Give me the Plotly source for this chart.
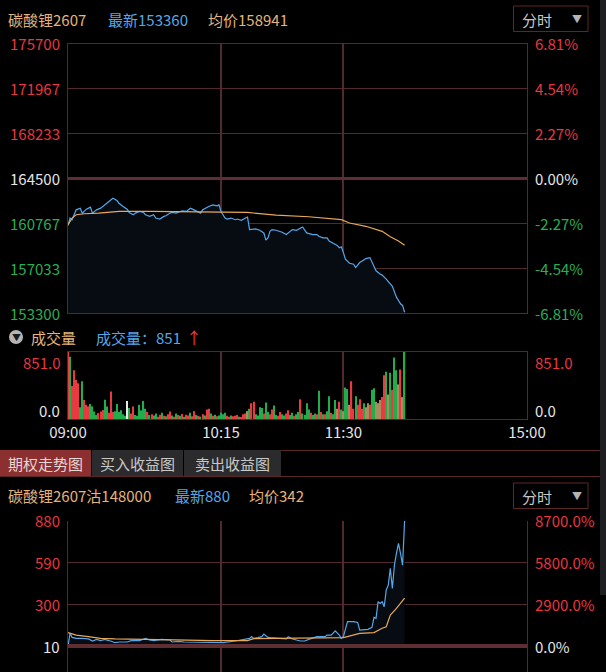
import plotly.graph_objects as go

W, H = 606, 672
def px(x): return x / W
def py(y): return 1 - y / H

# ---------------- data ----------------
time_ticks = [0, 75, 135, 225]
time_labels = ["09:00", "10:15", "11:30", "15:00"]

prev_close = 164500
price_ticks = [153300, 157033, 160767, 164500, 168233, 171967, 175700]
price_pct = ["-6.81%", "-4.54%", "-2.27%", "0.00%", "2.27%", "4.54%", "6.81%"]

price_min = [0, 1, 2, 4, 6, 7, 9, 11, 12, 14, 16, 17, 19, 20, 22, 24, 25, 27, 29, 30,
             32, 33, 35, 37, 38, 40, 42, 43, 45, 47, 48, 50, 51, 53, 55, 56, 58, 60, 61, 63,
             65, 66, 68, 69, 71, 73, 74, 75, 77, 78, 80, 82, 83, 85, 87, 88, 89, 91, 92, 94,
             96, 97, 98, 99, 100, 102, 104, 105, 107, 109, 110, 112, 114, 115, 117, 118, 120, 122, 123, 125,
             127, 128, 130, 132, 133, 134, 135, 136, 138, 140, 141, 143, 145, 146, 148, 150, 151, 153, 154, 156,
             158, 159, 161, 163, 164, 165]
price_val = [160575, 161206, 161069, 161892, 162029, 161618, 161947, 162112, 161618, 161892,
             162029, 162167, 162441, 162578, 162853, 162661, 162441, 162167, 161947, 161673,
             161480, 161618, 161755, 161673, 161480, 161343, 161480, 161206, 161124, 161343,
             161398, 161618, 161673, 161618, 161755, 161810, 161755, 162029, 161947, 161755,
             161618, 161892, 162112, 162167, 162304, 162222, 162304, 161755, 161206, 161124,
             161206, 161069, 161124, 161014, 161206, 161288, 160245, 160245, 160300, 160190,
             159971, 159367, 159559, 160108, 160245, 160190, 160108, 160026, 159833, 160108,
             160245, 160190, 160382, 160465, 159971, 159916, 159833, 159833, 159696, 159559,
             159559, 159284, 159092, 158928, 158735, 158818, 158324, 157775, 157445, 157363,
             157088, 157500, 157720, 157830, 157912, 157226, 156814, 156540, 156457, 156128,
             155716, 155524, 154618, 154069, 153932, 153360]

avg_min = [0, 2, 4, 8, 15, 25, 40, 60, 74, 88, 102, 118, 134, 138, 146, 150, 154, 158, 162, 165]
avg_val = [160657, 161206, 161480, 161563, 161618, 161755, 161755, 161727, 161727, 161673,
           161453, 161316, 161069, 160794, 160520, 160330, 160100, 159650, 159300, 158941]

vol = [851, 790, 420, 620, 500, 455, 150, 480, 240, 180,
       160, 190, 160, 95, 50, 75, 95, 115, 245, 160,
       80, 350, 90, 100, 190, 90, 110, 60, 40, 230,
       140, 70, 160, 50, 40, 180, 110, 230, 130, 90,
       50, 60, 45, 70, 30, 55, 80, 40, 35, 60,
       95, 45, 30, 70, 50, 40, 65, 30, 55, 45,
       80, 35, 100, 50, 40, 30, 60, 45, 120, 130,
       70, 40, 55, 35, 45, 80, 60, 80, 40, 30,
       45, 35, 40, 50, 30, 25, 60, 70, 100, 130,
       200, 220, 60, 45, 150, 140, 70, 210, 90, 60,
       120, 170, 50, 40, 90, 60, 45, 70, 110, 50,
       80, 40, 60, 90, 250, 70, 55, 200, 120, 80,
       50, 70, 60, 360, 90, 60, 60, 100, 290, 80,
       60, 240, 130, 220, 120, 100, 400, 380, 180, 480,
       130, 290, 180, 250, 130, 200, 150, 200, 180, 370,
       390, 220, 200, 240, 280, 556, 600, 310, 586, 370,
       780, 620, 440, 629, 278, 851]
vol_dir = list("rgrrrrggrr" "rggggrrrgg" "rrrggggggw" "grrggggggr" "grggrrgrgr"
               "rgrgrgrgrr" "grrgrgrgrr" "grgrggggrr" "grrrgrrrkg" "rrggggrggr"
               "rggrrggrrg" "grggrggggr" "ggrgrgrggr" "ggkrgkggkr" "rgrrrgkkrg"
               "gkkkrrgkgr" "ggkrkg")
vol_max = 851

opt_prev = 10
opt_ticks = [880, 590, 300, 10]
opt_min = [0, 1, 2, 4, 7, 10, 12, 14, 16, 18, 20, 21, 23, 25, 29, 31, 35, 38, 40, 42,
           46, 50, 51, 54, 57, 61, 65, 67, 73, 76, 82, 89, 90, 91, 93, 95, 96, 98, 99, 103,
           107, 108, 110, 114, 116, 118, 122, 126, 127, 129, 131, 133, 134, 135, 137, 140, 142, 143, 145, 147,
           149, 150, 151, 152, 153, 154, 155, 156, 157, 158, 159, 160, 161, 162, 163, 164, 165]
opt_val = [10, 98, 70, 63, 63, 59, 45, 56, 47, 56, 47, 45, 33, 38, 38, 47, 47, 63, 52, 47,
           56, 52, 38, 42, 38, 38, 38, 33, 33, 33, 45, 63, 75, 63, 68, 75, 93, 70, 68, 63,
           59, 75, 59, 45, 45, 56, 75, 75, 86, 86, 116, 86, 63, 75, 179, 179, 174, 121, 121, 126,
           140, 209, 202, 318, 306, 318, 283, 399, 433, 549, 410, 572, 653, 723, 653, 572, 880]
oavg_min = [0, 4, 10, 16, 23, 35, 52, 71, 88, 91, 108, 133, 135, 143, 150, 154, 156, 158, 161, 165]
oavg_val = [103, 86, 75, 63, 59, 54, 52, 47, 47, 61, 63, 66, 68, 98, 103, 133, 144, 225, 271, 342]

# ---------------- styles ----------------
BG = "#000000"
GRID = "#522a2e"
GRID_THICK = "#5f2e33"
RED = "#e8373f"
GREEN = "#2aae55"
WHITE = "#e6e6e6"
BLUE = "#55a7ea"
ORANGE = "#e8a85c"
TAN = "#e6b47a"
FONT = "Noto Sans CJK SC, Noto Sans, sans-serif"
FILL = "#070b12"
bar_colors = {"r": "#ea3a3f", "g": "#21ad4c", "w": "#e8e8e8", "k": "#a88c5e"}

XL, XR = 68, 527

fig = go.Figure()

fig.add_trace(go.Scatter(x=price_min, y=price_val, mode="lines", line=dict(color=BLUE, width=1.2),
                         fill="tozeroy", fillcolor=FILL, xaxis="x", yaxis="y", hoverinfo="skip"))
fig.add_trace(go.Scatter(x=avg_min, y=avg_val, mode="lines", line=dict(color=ORANGE, width=1.2),
                         xaxis="x", yaxis="y", hoverinfo="skip"))
fig.add_trace(go.Bar(x=list(range(len(vol))), y=vol, width=0.6,
                     marker=dict(color=[bar_colors[c] for c in vol_dir], line=dict(width=0)),
                     xaxis="x2", yaxis="y2", hoverinfo="skip"))
fig.add_trace(go.Scatter(x=opt_min, y=opt_val, mode="lines", line=dict(color=BLUE, width=1.2),
                         fill="tozeroy", fillcolor=FILL, xaxis="x3", yaxis="y3", hoverinfo="skip"))
fig.add_trace(go.Scatter(x=oavg_min, y=oavg_val, mode="lines", line=dict(color=ORANGE, width=1.2),
                         xaxis="x3", yaxis="y3", hoverinfo="skip"))

xdom = [px(XL), px(XR)]
common_x = dict(domain=xdom, range=[0, 225], zeroline=False, fixedrange=True, automargin=False)

layout = dict(
    width=W, height=H, autosize=False,
    margin=dict(l=0, r=0, t=0, b=0, pad=0, autoexpand=False),
    paper_bgcolor=BG, plot_bgcolor=BG, showlegend=False, barmode="overlay",
    font=dict(family=FONT, color=WHITE, size=15),
    xaxis=dict(**common_x, anchor="y", tickvals=[75, 135], showticklabels=False, ticks="",
               showgrid=True, gridcolor=GRID, gridwidth=2,
               showline=True, mirror=True, linecolor=GRID, linewidth=1),
    yaxis=dict(domain=[py(313), py(44)], range=[price_ticks[0], price_ticks[-1]], anchor="x",
               tickvals=price_ticks, showticklabels=False, ticks="", showgrid=True,
               gridcolor=GRID, gridwidth=1, zeroline=False, automargin=False,
               showline=True, mirror=True, linecolor=GRID, linewidth=1),
    xaxis2=dict(**common_x, anchor="y2", tickvals=time_ticks, ticktext=time_labels, ticks="",
                tickfont=dict(color=WHITE, size=15, family=FONT), showgrid=True,
                gridcolor=GRID, gridwidth=2, showline=True, mirror=True, linecolor=GRID, linewidth=1),
    yaxis2=dict(domain=[py(419), py(352)], range=[0, vol_max], anchor="x2", showgrid=False,
                showticklabels=False, ticks="", zeroline=False, automargin=False,
                showline=True, mirror=True, linecolor=GRID, linewidth=1),
    xaxis3=dict(**common_x, anchor="y3", tickvals=[75, 135], showticklabels=False, ticks="",
                showgrid=True, gridcolor=GRID, gridwidth=2, showline=False),
    yaxis3=dict(domain=[0, py(520.7)], range=[-170.5, 880.5], anchor="x3",
                tickvals=opt_ticks[:3], showticklabels=False, ticks="", showgrid=True,
                gridcolor=GRID, gridwidth=1, zeroline=False, automargin=False,
                showline=True, mirror=True, linecolor=GRID, linewidth=1),
)
fig.update_layout(**layout)

shapes = []
ann = []

def text(x, y, s, color, xanchor="left", size=15, xref="paper", yref="paper"):
    ann.append(dict(x=x, y=y, xref=xref, yref=yref, text=s, showarrow=False,
                    xanchor=xanchor, yanchor="middle", font=dict(color=color, size=size, family=FONT)))

shapes.append(dict(type="line", xref="paper", yref="y", x0=px(XL), x1=px(XR), y0=prev_close, y1=prev_close,
                   line=dict(color=GRID_THICK, width=3)))
shapes.append(dict(type="line", xref="paper", yref="y3", x0=px(XL), x1=px(XR), y0=opt_prev, y1=opt_prev,
                   line=dict(color=GRID_THICK, width=4)))

for v, p in zip(price_ticks, price_pct):
    c = RED if v > prev_close else (GREEN if v < prev_close else WHITE)
    text(px(62), v, str(v), c, xanchor="right", yref="y")
    text(px(533), v, p, c, xanchor="left", yref="y")

text(px(62), py(362), f"{vol_max:.1f}", RED, xanchor="right")
text(px(533), py(362), f"{vol_max:.1f}", RED, xanchor="left")
text(px(62), py(410), "0.0", WHITE, xanchor="right")
text(px(533), py(410), "0.0", WHITE, xanchor="left")

for v in opt_ticks:
    c = RED if v > opt_prev else WHITE
    pct = (v - opt_prev) / opt_prev * 100
    text(px(62), v, str(v), c, xanchor="right", yref="y3")
    text(px(533), v, f"{pct:.1f}%", c, xanchor="left", yref="y3")

text(px(6), py(19), "碳酸锂2607", TAN)
text(px(106), py(19), "最新" + str(price_val[-1]), BLUE)
text(px(206), py(19), "均价" + str(avg_val[-1]), TAN)

for top in (6, 483):
    shapes.append(dict(type="rect", xref="paper", yref="paper", x0=px(513.5), x1=px(588), y0=py(top), y1=py(top + 25.5),
                       line=dict(color="#5e2727", width=1), fillcolor="rgba(0,0,0,0)"))
    text(px(520), py(top + 13), "分时", "#c8c8c8")
    text(px(577), py(top + 12), "▼", "#b4b4b4", xanchor="center", size=10)

shapes.append(dict(type="circle", xref="paper", yref="paper", x0=px(9), x1=px(23), y0=py(344), y1=py(330),
                   fillcolor="#b5b5b5", line=dict(width=0)))
text(px(16), py(337.5), "▼", "#1a1a1a", xanchor="center", size=9)
text(px(29), py(337), "成交量", TAN)
text(px(94), py(337), "成交量：" + str(vol[-1]), BLUE)
text(px(184), py(337), "↑", "#f03a3a", size=16)

tabs = [("期权走势图", 0, 91, "#8c2f31", "#e9d6d6"), ("买入收益图", 92, 183, "#2b2b2d", "#c8c8c8"),
        ("卖出收益图", 184, 281, "#2b2b2d", "#c8c8c8")]
for label, x0, x1, bg, fc in tabs:
    shapes.append(dict(type="rect", xref="paper", yref="paper", x0=px(x0), x1=px(x1), y0=py(476), y1=py(450),
                       fillcolor=bg, line=dict(width=0)))
    text(px((x0 + x1) / 2), py(463), label, fc, xanchor="center")
shapes.append(dict(type="line", xref="paper", yref="paper", x0=px(281), x1=px(600), y0=py(450.5), y1=py(450.5),
                   line=dict(color="#5a2626", width=1)))
shapes.append(dict(type="line", xref="paper", yref="paper", x0=0, x1=px(600), y0=py(476.5), y1=py(476.5),
                   line=dict(color="#5a2626", width=1)))

text(px(6), py(495.5), "碳酸锂2607沽148000", TAN)
text(px(173), py(495.5), "最新" + str(opt_val[-1]), BLUE)
text(px(247), py(495.5), "均价" + str(oavg_val[-1]), TAN)

shapes.append(dict(type="rect", xref="paper", yref="paper", x0=px(600), x1=1, y0=py(595), y1=1,
                   fillcolor="#1e1e20", line=dict(width=0), layer="below"))

fig.update_layout(shapes=shapes, annotations=ann)
fig.write_html("out.html", config={"responsive": False})
